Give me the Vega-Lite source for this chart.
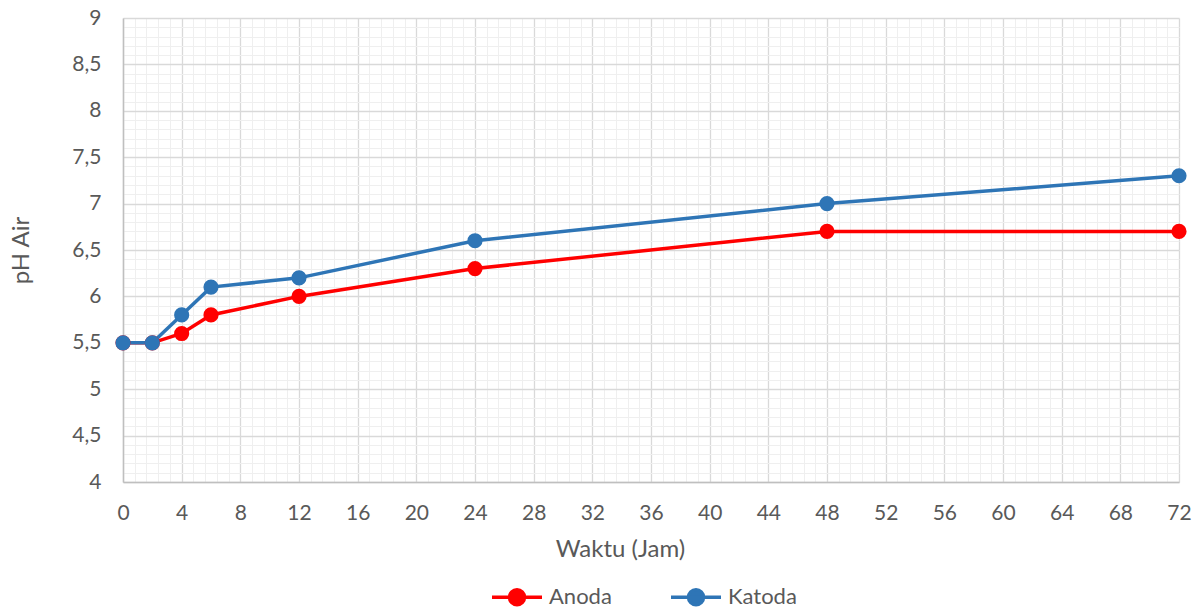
{
  "$schema": "https://vega.github.io/schema/vega-lite/v6.json",
  "autosize": {"type": "none"},
  "width": 1056,
  "height": 464,
  "padding": {"left": 123, "top": 18, "right": 21, "bottom": 126},
  "background": "white",
  "config": {
    "font": "Lato",
    "view": {"stroke": null},
    "axis": {"labelFont": "Lato", "titleFont": "Lato", "labelColor": "#595959", "titleColor": "#595959", "titleFontWeight": "normal", "labelFlush": false}
  },
  "data": {
    "values": [
      {"jam": 0, "ph": 5.5, "seri": "Anoda"},
      {"jam": 2, "ph": 5.5, "seri": "Anoda"},
      {"jam": 4, "ph": 5.6, "seri": "Anoda"},
      {"jam": 6, "ph": 5.8, "seri": "Anoda"},
      {"jam": 12, "ph": 6.0, "seri": "Anoda"},
      {"jam": 24, "ph": 6.3, "seri": "Anoda"},
      {"jam": 48, "ph": 6.7, "seri": "Anoda"},
      {"jam": 72, "ph": 6.7, "seri": "Anoda"},
      {"jam": 0, "ph": 5.5, "seri": "Katoda"},
      {"jam": 2, "ph": 5.5, "seri": "Katoda"},
      {"jam": 4, "ph": 5.8, "seri": "Katoda"},
      {"jam": 6, "ph": 6.1, "seri": "Katoda"},
      {"jam": 12, "ph": 6.2, "seri": "Katoda"},
      {"jam": 24, "ph": 6.6, "seri": "Katoda"},
      {"jam": 48, "ph": 7.0, "seri": "Katoda"},
      {"jam": 72, "ph": 7.3, "seri": "Katoda"}
    ]
  },
  "resolve": {"axis": {"x": "independent", "y": "independent"}},
  "layer": [
    {
      "mark": {"type": "line", "strokeWidth": 3.5},
      "encoding": {
        "x": {
          "field": "jam", "type": "quantitative",
          "scale": {"domain": [0, 72], "nice": false, "zero": false},
          "axis": {
            "orient": "top", "title": null, "labels": false, "ticks": false, "domain": false,
            "grid": true, "gridColor": "#efefef", "gridWidth": 1,
            "values": [0,0.8,1.6,2.4,3.2,4,4.8,5.6,6.4,7.2,8,8.8,9.6,10.4,11.2,12,12.8,13.6,14.4,15.2,16,16.8,17.6,18.4,19.2,20,20.8,21.6,22.4,23.2,24,24.8,25.6,26.4,27.2,28,28.8,29.6,30.4,31.2,32,32.8,33.6,34.4,35.2,36,36.8,37.6,38.4,39.2,40,40.8,41.6,42.4,43.2,44,44.8,45.6,46.4,47.2,48,48.8,49.6,50.4,51.2,52,52.8,53.6,54.4,55.2,56,56.8,57.6,58.4,59.2,60,60.8,61.6,62.4,63.2,64,64.8,65.6,66.4,67.2,68,68.8,69.6,70.4,71.2,72]
          }
        },
        "y": {
          "field": "ph", "type": "quantitative",
          "scale": {"domain": [4, 9], "nice": false, "zero": false},
          "axis": {
            "orient": "right", "title": null, "labels": false, "ticks": false, "domain": false,
            "grid": true, "gridColor": "#efefef", "gridWidth": 1,
            "values": [4,4.1,4.2,4.3,4.4,4.5,4.6,4.7,4.8,4.9,5,5.1,5.2,5.3,5.4,5.5,5.6,5.7,5.8,5.9,6,6.1,6.2,6.3,6.4,6.5,6.6,6.7,6.8,6.9,7,7.1,7.2,7.3,7.4,7.5,7.6,7.7,7.8,7.9,8,8.1,8.2,8.3,8.4,8.5,8.6,8.7,8.8,8.9,9]
          }
        },
        "color": {
          "field": "seri", "type": "nominal",
          "scale": {"domain": ["Anoda", "Katoda"], "range": ["#ff0000", "#2e75b6"]}
        }
      }
    },
    {
      "mark": {"type": "point", "filled": true, "size": 230, "opacity": 1},
      "encoding": {
        "x": {
          "field": "jam", "type": "quantitative",
          "scale": {"domain": [0, 72], "nice": false, "zero": false},
          "axis": {
            "orient": "bottom", "title": "Waktu (Jam)", "titleFontSize": 24, "titlePadding": 14,
            "titleX": 497,
            "values": [0,4,8,12,16,20,24,28,32,36,40,44,48,52,56,60,64,68,72],
            "labelFontSize": 21, "labelPadding": 20, "ticks": false,
            "domain": true, "domainColor": "#bfbfbf", "domainWidth": 1.5,
            "grid": true, "gridColor": "#d9d9d9", "gridWidth": 1.3
          }
        },
        "y": {
          "field": "ph", "type": "quantitative",
          "scale": {"domain": [4, 9], "nice": false, "zero": false},
          "axis": {
            "orient": "left", "title": "pH Air", "titleFontSize": 24, "titlePadding": 38,
            "values": [4,4.5,5,5.5,6,6.5,7,7.5,8,8.5,9],
            "labelExpr": "replace(format(datum.value, '~g'), '.', ',')",
            "labelFontSize": 21, "labelPadding": 22, "ticks": false,
            "domain": true, "domainColor": "#bfbfbf", "domainWidth": 1.5,
            "grid": true, "gridColor": "#d9d9d9", "gridWidth": 1.3
          }
        },
        "color": {
          "field": "seri", "type": "nominal",
          "scale": {"domain": ["Anoda", "Katoda"], "range": ["#ff0000", "#2e75b6"]},
          "legend": {
            "title": null, "orient": "none", "direction": "horizontal",
            "legendX": 367, "legendY": 552,
            "symbolType": "M-1,0L1,0M-0.3,0A0.3,0.3,0,1,1,0.3,0A0.3,0.3,0,1,1,-0.3,0Z",
            "symbolSize": 2500, "symbolStrokeWidth": 3.5,
            "labelFontSize": 22, "labelColor": "#595959", "labelOffset": 5,
            "columnPadding": 52,
            "encode": {
              "symbols": {
                "update": {
                  "stroke": {"scale": "color", "field": "value"},
                  "fill": {"scale": "color", "field": "value"},
                  "strokeWidth": {"value": 3.5},
                  "opacity": {"value": 1}
                }
              }
            }
          }
        }
      }
    }
  ]
}
